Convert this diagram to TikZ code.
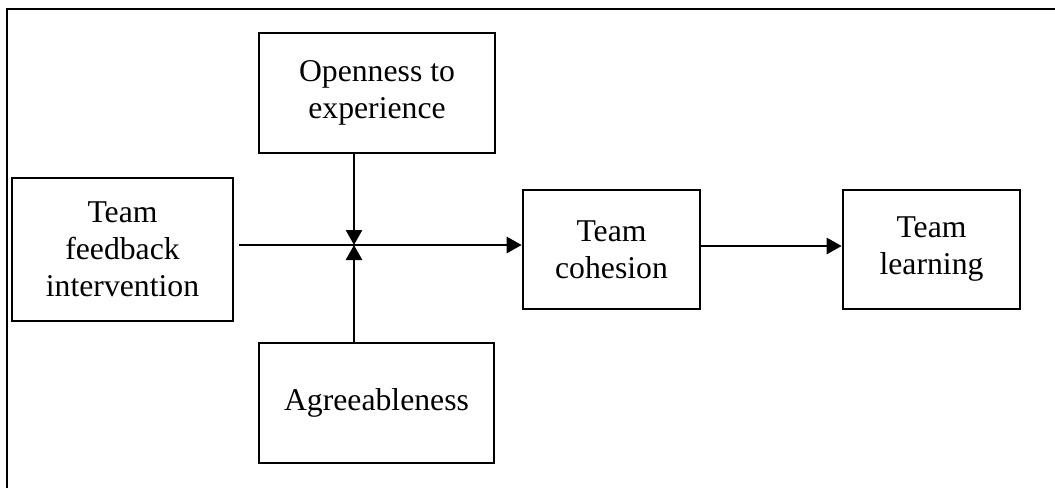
\documentclass[tikz,border=0pt]{standalone}
\usepackage{fontspec}
\setmainfont{Liberation Serif}
\usetikzlibrary{arrows.meta}
\begin{document}
\begin{tikzpicture}[x=1pt,y=-1pt,
  box/.style={draw, line width=2.6pt, align=center, inner sep=0pt,
    font=\fontsize{31.7}{37}\selectfont},
  conn/.style={line width=2.6pt},
  arr/.style={conn, -{Triangle[length=15pt,width=16pt]}},
  frame/.style={line width=2.8pt}]
  \useasboundingbox (0,0) rectangle (1055,488);
  % partial outer frame
  \draw[frame] (7,488) -- (7,9) -- (1055,9);

  % boxes
  \node[box, minimum width=221pt, minimum height=143pt] (fb) at (122.5,249.5)
    {Team\\feedback\\intervention};
  \node[box, minimum width=236pt, minimum height=120pt] (op) at (377,93)
    {Openness to\\experience};
  \node[box, minimum width=235pt, minimum height=120pt] (ag) at (376.5,403)
    {Agreeableness};
  \node[box, minimum width=177pt, minimum height=119pt] (coh) at (611.5,249.5)
    {Team\\cohesion};
  \node[box, minimum width=177pt, minimum height=119pt] (lr) at (931.5,249.5)
    {Team\\learning};

  % moderation junction
  \coordinate (j) at (354,245);

  % connectors
  \draw[arr] ([xshift=5pt]fb.east |- j) -- (coh.west |- j);
  \draw[arr] (op.south -| j) -- (j);
  \draw[arr] (ag.north -| j) -- (j);
  \draw[arr] ([yshift=3.5pt]coh.east) -- ([yshift=3.5pt]lr.west);
\end{tikzpicture}
\end{document}
